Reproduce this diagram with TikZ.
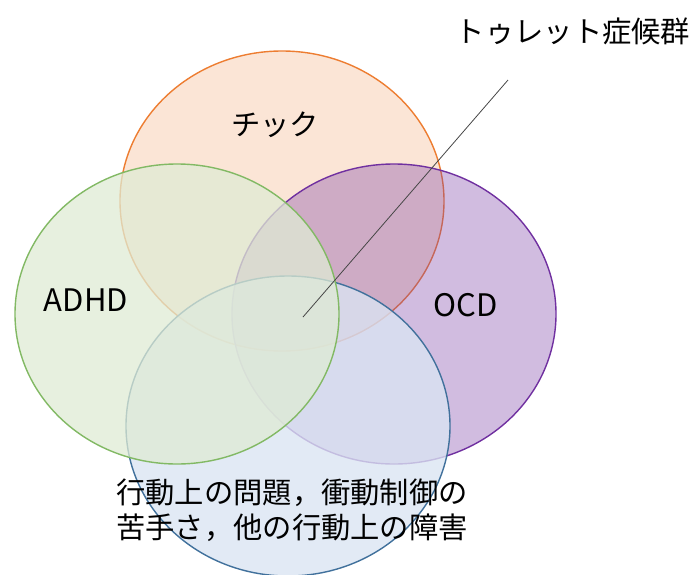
\documentclass[tikz,border=0pt]{standalone}
\usepackage{fontspec}
\setmainfont{Noto Sans CJK JP}
\usetikzlibrary{shapes.geometric}
\definecolor{orline}{RGB}{237,125,49}
\definecolor{orfill}{RGB}{251,229,214}
\definecolor{puline}{RGB}{112,48,160}
\definecolor{pufill}{RGB}{124,64,166}
\definecolor{blline}{RGB}{65,113,156}
\definecolor{blfill}{RGB}{218,228,242}
\definecolor{grline}{RGB}{130,185,100}
\definecolor{grfill}{RGB}{223,235,212}
\definecolor{ptr}{RGB}{70,70,70}
\tikzset{
  venn/.style={ellipse, inner sep=0pt, minimum width=324pt, minimum height=300pt, line width=1.4pt},
  lbl/.style={inner sep=0pt, font=\fontsize{29.3}{35}\selectfont, text=black},
  latin/.style={lbl, font=\fontsize{31}{36}\selectfont},
}
\begin{document}
\begin{tikzpicture}[x=1pt,y=-1pt]
\useasboundingbox (0,0) rectangle (691,574);
\node[venn, draw=orline, fill=orfill] (tic) at (282,201) {};
\node[venn, draw=puline, fill=pufill, fill opacity=0.35] (ocd) at (394,314) {};
\node[venn, draw=blline, fill=blfill, fill opacity=0.79] (beh) at (288,426) {};
\node[venn, draw=grline, fill=grfill, fill opacity=0.75] (adhd) at (177,314) {};
\node[lbl] (tictext) at (275,125) {チック};
\node[latin] (adhdtext) at (86,300) {ADHD};
\node[latin] (ocdtext) at (466,305) {OCD};
\node[lbl, align=left] (behtext) at (292,510) {行動上の問題，衝動制御の\\苦手さ，他の行動上の障害};
\node[lbl] (tourette) at (573,31) {トゥレット症候群};
\coordinate (pstart) at (303,317);
\coordinate (pend) at (508,80);
\draw[ptr, line width=0.8pt] (pstart) -- (pend);
\end{tikzpicture}
\end{document}
